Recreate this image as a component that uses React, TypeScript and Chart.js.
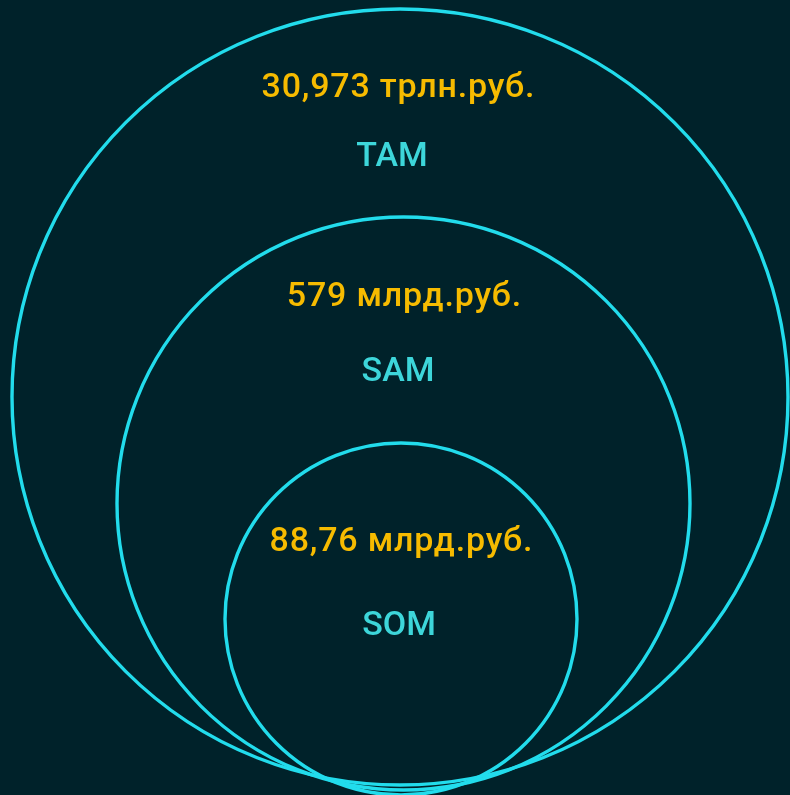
import React, { useEffect, useRef } from "react";
import { Chart, registerables } from "chart.js";

Chart.register(...registerables);

const segments = ["TAM", "SAM", "SOM"];
const valueLabels = ["30,973 трлн.руб.", "579 млрд.руб.", "88,76 млрд.руб."];
const circleX = [400, 403.5, 401];
const circleY = [397, 503.5, 619];
const circleR = [388, 286.5, 176];
const valueLabelX = [398, 404, 401];
const valueLabelY = [88.5, 297, 542];
const nameLabelX = [392, 398, 399];
const nameLabelY = [157.5, 372, 626];

const BG = "#00222a";
const RING = "#22dcec";
const GOLD = "#f6bb00";
const NAME = "#3dd6da";

const labelPlugin = {
  id: "tamLabels",
  afterDatasetsDraw(chart: any) {
    const { ctx, scales } = chart;
    const xs = scales.x;
    const ys = scales.y;
    ctx.save();
    ctx.textAlign = "center";
    ctx.textBaseline = "middle";
    segments.forEach((name, i) => {
      ctx.fillStyle = GOLD;
      ctx.font = "500 34px Roboto";
      (ctx as any).letterSpacing = "0.8px";
      ctx.fillText(
        valueLabels[i],
        xs.getPixelForValue(valueLabelX[i]) + 0.4,
        ys.getPixelForValue(valueLabelY[i])
      );
      ctx.fillStyle = NAME;
      ctx.font = "500 34px Roboto";
      (ctx as any).letterSpacing = "0px";
      ctx.fillText(name, xs.getPixelForValue(nameLabelX[i]), ys.getPixelForValue(nameLabelY[i]));
    });
    ctx.restore();
  },
};

const bgPlugin = {
  id: "bg",
  beforeDraw(chart: any) {
    const { ctx, width, height } = chart;
    ctx.save();
    ctx.fillStyle = BG;
    ctx.fillRect(0, 0, width, height);
    ctx.restore();
  },
};

export default function App() {
  const ref = useRef<HTMLCanvasElement | null>(null);
  useEffect(() => {
    document.body.style.margin = "0";
    document.body.style.background = BG;
    const chart = new Chart(ref.current as HTMLCanvasElement, {
      type: "bubble",
      data: {
        datasets: [
          {
            label: "market",
            data: segments.map((_, i) => ({ x: circleX[i], y: circleY[i], r: circleR[i] })),
            backgroundColor: "rgba(0,0,0,0)",
            borderColor: RING,
            borderWidth: 3.4,
            hoverRadius: 0,
            hoverBorderWidth: 3.4,
            clip: false as any,
          } as any,
        ],
      },
      options: {
        responsive: false,
        animation: false,
        events: [],
        layout: { padding: 0, autoPadding: false } as any,
        plugins: { legend: { display: false }, tooltip: { enabled: false } },
        scales: {
          x: { type: "linear", min: 0, max: 790, display: false },
          y: { type: "linear", min: 0, max: 795, reverse: true, display: false },
        },
      },
      plugins: [bgPlugin, labelPlugin],
    });
    return () => chart.destroy();
  }, []);
  return (
    <div style={{ position: "absolute", left: 0, top: 0, width: 790, height: 795, background: BG }}>
      <canvas ref={ref} width={790} height={795} style={{ width: 790, height: 795, display: "block" }} />
    </div>
  );
}
